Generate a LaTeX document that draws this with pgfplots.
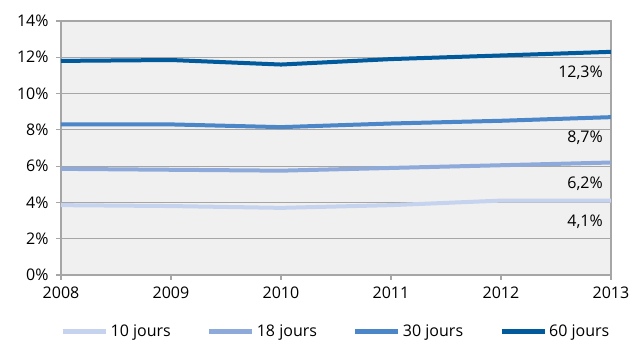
\documentclass[border=0pt]{standalone}
\usepackage{pgfplots}
\pgfplotsset{compat=1.18}
\usepackage{fontspec}
\setmainfont{Open Sans}
\definecolor{bg}{HTML}{F0F0F0}
\definecolor{gridc}{HTML}{A6A6A6}
\definecolor{cA}{HTML}{C5D3EE}
\definecolor{cB}{HTML}{8EAADB}
\definecolor{cC}{HTML}{4A86C8}
\definecolor{cD}{HTML}{005A9C}
\begin{document}
\fontsize{16}{19}\selectfont
\begin{tikzpicture}[x=1pt,y=1pt]
\path[use as bounding box] (-61,-67) rectangle (572,275);
\begin{axis}[
  scale only axis, width=550pt, height=254pt,
  at={(0,0)}, anchor=south west,
  xmin=2008, xmax=2013, ymin=0, ymax=14,
  xtick={2008,...,2013}, ytick={0,2,...,14},
  xticklabel style={/pgf/number format/1000 sep={}},
  /pgf/number format/assume math mode=true,
  yticklabel={\pgfmathprintnumber{\tick}\%},
  axis background/.style={fill=bg},
  axis line style={gridc, line width=1.2pt},
  ymajorgrids, major grid style={gridc, line width=1.2pt},
  tick style={gridc, line width=1.2pt},
  tick align=outside, major tick length=5pt,
  xtick pos=bottom, ytick pos=left,
  ticklabel style={font=\fontsize{16}{19}\selectfont},
  yticklabel style={xshift=-2pt},
  xticklabel style={yshift=-1pt},
  legend columns=4,
  legend style={draw=none, fill=none, at={(0.5,-0.224)}, anchor=center,
    font=\fontsize{16}{19}\selectfont,
    /tikz/every even column/.append style={column sep=34pt}},
  legend image code/.code={\draw[#1, line width=5pt] (0pt,0pt) -- (43pt,0pt);},
  every axis plot/.append style={line width=4pt, line join=round},
]
\addplot[cA] coordinates {(2008,3.85) (2009,3.8) (2010,3.7) (2011,3.85) (2012,4.1) (2013,4.1)};
\addlegendentry{10 jours}
\addplot[cB] coordinates {(2008,5.85) (2009,5.8) (2010,5.75) (2011,5.9) (2012,6.05) (2013,6.2)};
\addlegendentry{18 jours}
\addplot[cC] coordinates {(2008,8.3) (2009,8.3) (2010,8.15) (2011,8.35) (2012,8.5) (2013,8.7)};
\addlegendentry{30 jours}
\addplot[cD] coordinates {(2008,11.8) (2009,11.85) (2010,11.6) (2011,11.9) (2012,12.1) (2013,12.3)};
\addlegendentry{60 jours}
\begin{scope}[every node/.style={anchor=east, inner sep=1pt, fill=bg, xshift=-7pt, yshift=-21pt, font=\fontsize{16}{19}\selectfont}]
\node at (axis cs:2013,12.3) {12,3\%};
\node at (axis cs:2013,8.7) {8,7\%};
\node at (axis cs:2013,6.2) {6,2\%};
\node at (axis cs:2013,4.1) {4,1\%};
\end{scope}
\end{axis}
\end{tikzpicture}
\end{document}
